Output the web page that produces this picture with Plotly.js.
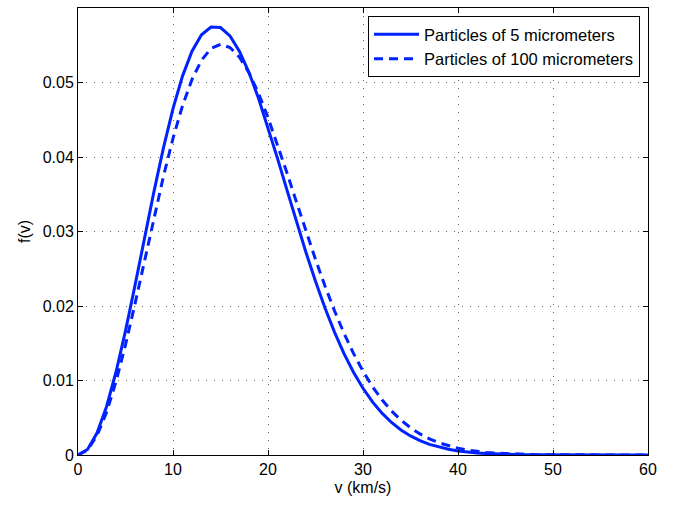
<!DOCTYPE html>
<html>
<head>
<meta charset="utf-8">
<script src="https://cdn.plot.ly/plotly-3.0.1.min.js"></script>
<style>html,body{margin:0;padding:0;background:#fff;}#chart{width:683px;height:506px;}</style>
</head>
<body>
<div id="chart"></div>
<script>
const velocity = [0,1,2,3,4,5,6,7,8,9,10,11,12,13,14,15,16,17,18,19,20,21,22,23,24,25,26,27,28,29,30,31,32,33,34,35,36,37,38,39,40,41,42,43,44,45,46,47,48,49,50,51,52,53,54,55,56,57,58,59,60];
const particles5 = [0,0.000748,0.002950,0.006480,0.011140,0.016669,0.022767,0.029111,0.035380,0.041264,0.046497,0.050859,0.054193,0.056403,0.057454,0.057377,0.056242,0.054181,0.051339,0.047882,0.043990,0.039822,0.035550,0.031302,0.027188,0.023312,0.019736,0.016493,0.013616,0.011110,0.008953,0.007132,0.005615,0.004368,0.003360,0.002557,0.001923,0.001430,0.001052,0.000765,0.000551,0.000392,0.000276,0.000192,0.000133,0.000091,0.000061,0.000041,0.000027,0.000018,0.000011,0.000007,0.000004,0.000003,0.000002,0.000001,0,0,0,0,0];
const particles100 = [0,0.000658,0.002596,0.005714,0.009849,0.014790,0.020289,0.026078,0.031882,0.037437,0.042504,0.046881,0.050414,0.052994,0.054564,0.055121,0.054705,0.053393,0.051299,0.048561,0.045296,0.041693,0.037852,0.033939,0.030034,0.026252,0.022679,0.019362,0.016338,0.013638,0.011248,0.009178,0.007409,0.005916,0.004675,0.003655,0.002828,0.002165,0.001641,0.001231,0.000914,0.000672,0.000488,0.000352,0.000251,0.000178,0.000124,0.000086,0.000059,0.000040,0.000027,0.000018,0.000011,0.000007,0.000005,0.000003,0.000002,0.000001,0,0,0];
const seriesNames = ["Particles of 5 micrometers", "Particles of 100 micrometers"];
const xTicks = [0,10,20,30,40,50,60];
const yTicks = [0,0.01,0.02,0.03,0.04,0.05,0.06];
const yTickText = ["0","0.01","0.02","0.03","0.04","0.05","0.06"];

const blue = "#0022ff";
const fontFam = "Liberation Sans, Arial, Helvetica, sans-serif";
const traces = [
  {x: velocity, y: particles5, name: seriesNames[0], mode: "lines", type: "scatter",
   line: {color: blue, width: 3}},
  {x: velocity, y: particles100, name: seriesNames[1], mode: "lines", type: "scatter",
   line: {color: blue, width: 3, dash: "9px,6px"}}
];
const axisCommon = {
  showline: true, linecolor: "#000", linewidth: 1, mirror: "ticks",
  ticks: "inside", ticklen: 5, tickcolor: "#000", tickwidth: 1,
  showgrid: true, gridcolor: "#666", griddash: "1px,7px", gridwidth: 1,
  zeroline: false,
  tickfont: {family: fontFam, size: 16, color: "#000"}
};
const layout = {
  width: 683, height: 506,
  margin: {l: 78, r: 35, t: 8, b: 51},
  paper_bgcolor: "#fff", plot_bgcolor: "#fff",
  font: {family: fontFam, color: "#000"},
  showlegend: true,
  legend: {x: 0.986, y: 0.982, xanchor: "right", yanchor: "top",
    bgcolor: "#fff", bordercolor: "#000", borderwidth: 1,
    font: {family: fontFam, size: 16.5, color: "#000"},
    itemwidth: 45, tracegroupgap: 0},
  xaxis: Object.assign({}, axisCommon, {
    range: [0, 60], tickvals: xTicks, ticktext: xTicks.map(String),
    title: {text: "v (km/s)", font: {family: fontFam, size: 16, color: "#000"}, standoff: 4}
  }),
  yaxis: Object.assign({}, axisCommon, {
    range: [0, 0.06], tickvals: yTicks, ticktext: yTickText,
    title: {text: "f(v)", font: {family: fontFam, size: 16, color: "#000"}, standoff: 8}
  })
};
Plotly.newPlot("chart", traces, layout, {displayModeBar: false, staticPlot: true});
</script>
</body>
</html>
